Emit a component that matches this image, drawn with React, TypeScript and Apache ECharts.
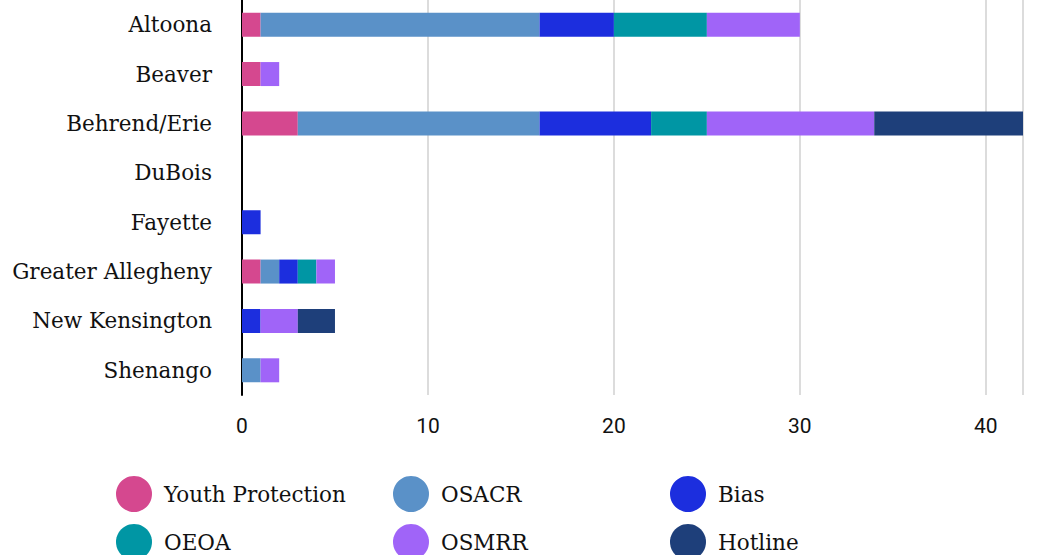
import React, { useEffect, useRef } from "react";
import * as echarts from "echarts";

const campuses = ["Altoona", "Beaver", "Behrend/Erie", "DuBois", "Fayette", "Greater Allegheny", "New Kensington", "Shenango"];
const seriesNames = ["Youth Protection", "OSACR", "Bias", "OEOA", "OSMRR", "Hotline"];
const colors = ["#D5488F", "#5A91C8", "#1C2EDE", "#0096A4", "#A064F8", "#1E3F7A"];
const youthProtection = [1, 1, 3, 0, 0, 1, 0, 0];
const osacr = [15, 0, 13, 0, 0, 1, 0, 1];
const bias = [4, 0, 6, 0, 1, 1, 1, 0];
const oeoa = [5, 0, 3, 0, 0, 1, 0, 0];
const osmrr = [5, 1, 9, 0, 0, 1, 2, 1];
const hotline = [0, 0, 8, 0, 0, 0, 2, 0];
const xTicks = [0, 10, 20, 30, 40];

const serif = "'Roboto Slab', 'DejaVu Serif', serif";

export default function App() {
  const ref = useRef<HTMLDivElement>(null);
  useEffect(() => {
    document.body.style.margin = "0";
    const chart = echarts.init(ref.current!, undefined, { renderer: "svg" });
    const values = [youthProtection, osacr, bias, oeoa, osmrr, hotline];
    chart.setOption({
      animation: false,
      color: colors,
      grid: { left: 242, width: 781, top: -1, height: 396, containLabel: false },
      xAxis: {
        type: "value",
        min: 0,
        max: 42,
        interval: 10,
        axisLine: { show: false },
        axisTick: { show: false },
        splitLine: { show: true, lineStyle: { color: "#dcdcdc", width: 2 } },
        axisLabel: {
          margin: 20,
          fontFamily: "Roboto, sans-serif",
          fontSize: 21,
          color: "#111",
          formatter: (v: number) => (xTicks.includes(v) ? String(v) : ""),
        },
      },
      yAxis: {
        type: "category",
        data: campuses,
        inverse: true,
        axisLine: { show: true, lineStyle: { color: "#000", width: 2 } },
        axisTick: { show: false },
        axisLabel: { margin: 30, fontFamily: serif, fontSize: 21.5, color: "#111" },
      },
      legend: seriesNames.map((name, i) => ({
        left: 111 + (i % 3) * 277,
        top: 471 + Math.floor(i / 3) * 48,
        itemWidth: 36,
        itemHeight: 36,
        icon: "circle",
        data: [name],
        textStyle: { fontFamily: serif, fontSize: 21.5, color: "#111", padding: [0, 0, 0, 7] },
      })),
      series: seriesNames.map((name, i) => ({
        name,
        type: "bar",
        stack: "total",
        barWidth: 24,
        data: values[i],
        itemStyle: { color: colors[i] },
      })),
    });
    return () => chart.dispose();
  }, []);
  return <div ref={ref} style={{ width: 1064, height: 555 }} />;
}
